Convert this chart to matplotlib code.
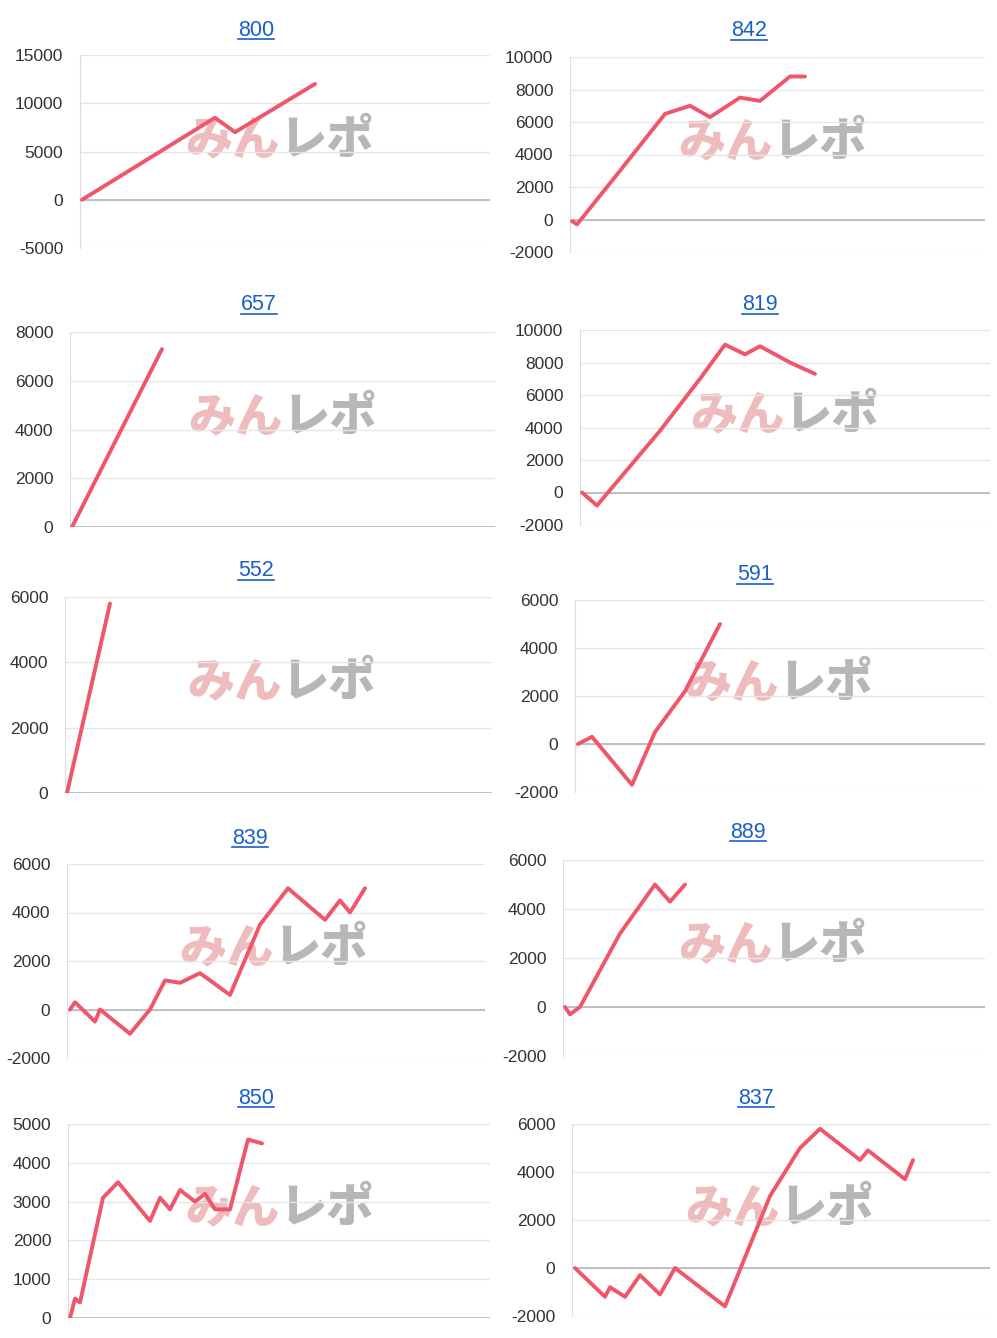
import matplotlib
matplotlib.use("Agg")
import matplotlib.pyplot as plt
from matplotlib.lines import Line2D

plt.rcParams["font.family"] = ["Liberation Sans", "DejaVu Sans"]
plt.rcParams["axes.unicode_minus"] = False

W, H = 997, 1338
titles = ["800", "842", "657", "819", "552", "591", "839", "889", "850", "837"]
title_pos = [(256, 30), (749, 31), (259, 305), (760, 305), (256, 571),
             (755, 575), (250, 838), (748, 832), (256, 1098), (756, 1098)]
wm_pos = [(280, 140), (773, 142), (283, 417), (785, 415), (282, 682),
          (779, 683), (274, 948), (773, 945), (280, 1208), (780, 1208)]
ylims = [(-5000, 15000), (-2000, 10000), (0, 8000), (-2000, 10000), (0, 6000),
         (-2000, 6000), (-2000, 6000), (-2000, 6000), (0, 5000), (-2000, 6000)]
ysteps = [5000, 2000, 2000, 2000, 2000, 2000, 2000, 2000, 1000, 2000]
xs_px = [
    [82, 215, 235, 315],
    [572, 577, 620, 665, 690, 710, 740, 760, 790, 805],
    [72, 162],
    [582, 597, 660, 700, 725, 745, 760, 790, 815],
    [67, 110],
    [578, 592, 632, 655, 685, 720],
    [70, 75, 95, 100, 130, 150, 165, 180, 200, 230, 260, 288, 325, 340, 350, 365],
    [565, 570, 580, 600, 620, 655, 670, 685],
    [70, 75, 80, 103, 118, 150, 160, 170, 180, 195, 205, 215, 230, 248, 262],
    [575, 605, 610, 625, 640, 660, 675, 725, 770, 800, 820, 860, 868, 905, 913],
]
ys = [
    [0, 8500, 7000, 12000],
    [-100, -300, 3000, 6500, 7000, 6300, 7500, 7300, 8800, 8800],
    [0, 7300],
    [0, -800, 3800, 7000, 9100, 8500, 9000, 8000, 7300],
    [0, 5800],
    [0, 300, -1700, 500, 2200, 5000],
    [0, 300, -500, 0, -1000, 0, 1200, 1100, 1500, 600, 3500, 5000, 3700, 4500, 4000, 5000],
    [0, -300, 0, 1500, 3000, 5000, 4300, 5000],
    [0, 500, 400, 3100, 3500, 2500, 3100, 2800, 3300, 3000, 3200, 2800, 2800, 4600, 4500],
    [0, -1200, -800, -1200, -300, -1100, 0, -1600, 3000, 5000, 5800, 4500, 4900, 3700, 4500],
]
boxes = [
    (80, 490, 55, 248), (570, 985, 57, 252),
    (70, 495, 332, 527), (580, 990, 330, 525),
    (65, 492, 597, 793), (575, 985, 600, 792),
    (67, 485, 864, 1058), (563, 985, 860, 1056),
    (68, 490, 1124, 1318), (572, 990, 1124, 1316),
]

fig = plt.figure(figsize=(W / 100, H / 100), dpi=100)
fig.patch.set_facecolor("white")
titletexts = []
for i in range(10):
    l, r, t, b = boxes[i]
    ax = fig.add_axes([l / W, 1 - b / H, (r - l) / W, (b - t) / H])
    ax.set_facecolor("none")
    lo, hi = ylims[i]
    ax.set_ylim(lo, hi)
    ax.set_xlim(l, r)
    ax.set_yticks(range(lo, hi + 1, ysteps[i]))
    ax.set_xticks([])
    ax.grid(axis="y", color="#e6e6e6", lw=1)
    ax.set_axisbelow(True)
    for s in ["top", "right", "bottom"]:
        ax.spines[s].set_visible(False)
    ax.spines["left"].set_color("#dddddd")
    ax.axhline(0, color="#bbbbbb", lw=1.3, zorder=1)
    ax.tick_params(axis="y", length=0, labelsize=12.5, colors="#333333", pad=12)
    ax.plot(xs_px[i], ys[i], color="#f0566b", lw=2.8, solid_capstyle="round", zorder=3)
    tx, ty = title_pos[i]
    titletexts.append(fig.text(tx / W, 1 - ty / H, titles[i], ha="center", va="center",
                               fontsize=15.5, color="#1a5fc8"))
    wx, wy = wm_pos[i]
    fig.text(wx / W, 1 - wy / H, "みん", ha="right", va="center", fontsize=34,
             fontweight="black", style="italic", color="#e8a0a0", alpha=0.7,
             family=["Noto Sans CJK JP"], zorder=-1)
    fig.text(wx / W, 1 - wy / H, "レポ", ha="left", va="center", fontsize=34,
             fontweight="black", style="italic", color="#999999", alpha=0.7,
             family=["Noto Sans CJK JP"], zorder=-1)

fig.canvas.draw()
rend = fig.canvas.get_renderer()
for txt in titletexts:
    bb = txt.get_window_extent(rend).transformed(fig.transFigure.inverted())
    y = bb.y0 + 0.001
    fig.add_artist(Line2D([bb.x0, bb.x1], [y, y], transform=fig.transFigure, color="#1a5fc8", lw=1.2))
fig.savefig("out.png", dpi=100, facecolor="white")
